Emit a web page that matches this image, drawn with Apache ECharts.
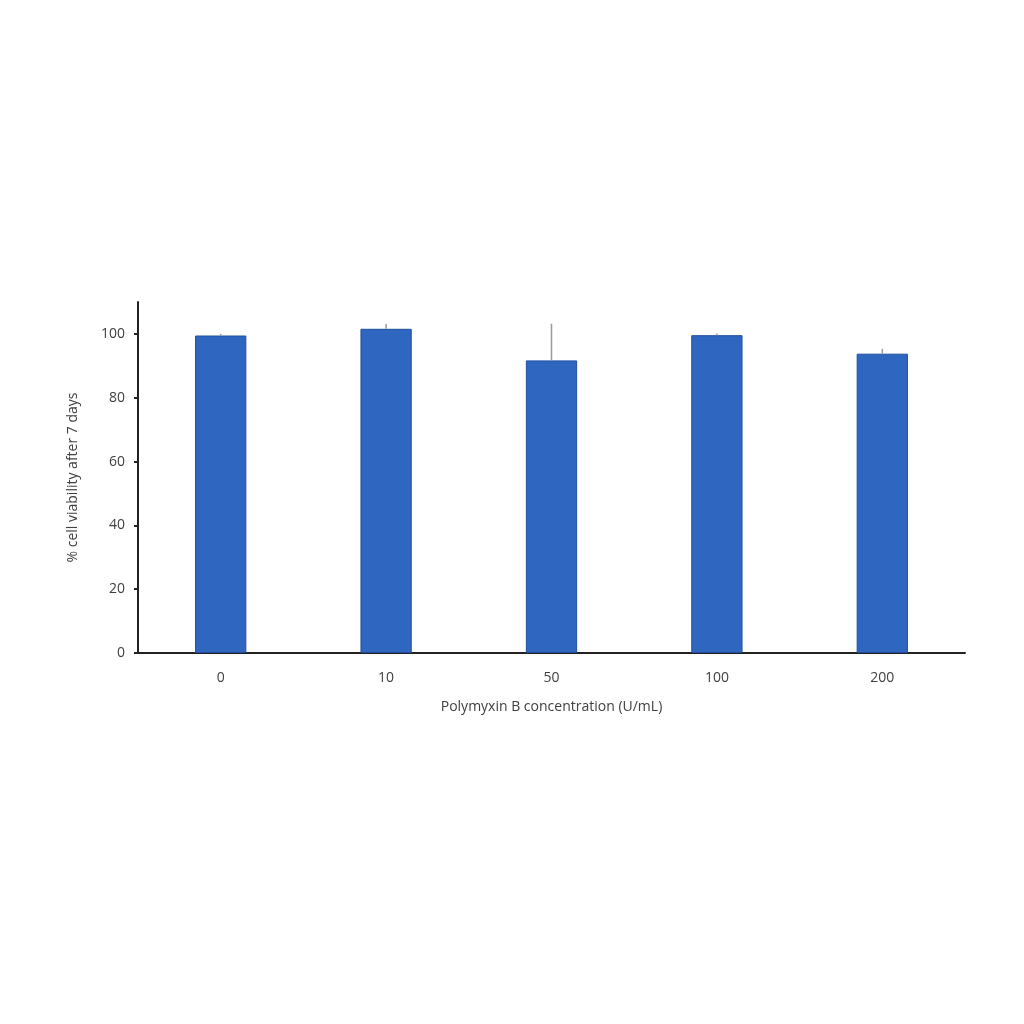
<!DOCTYPE html>
<html>
<head>
<meta charset="utf-8">
<script src="https://cdn.jsdelivr.net/npm/echarts@6/dist/echarts.min.js"></script>
<style>html,body{margin:0;padding:0;background:#fff}#c{width:1024px;height:1024px}</style>
</head>
<body>
<div id="c"></div>
<script>
var categories = ['0', '10', '50', '100', '200'];
var viability = [99.5, 101.6, 91.7, 99.6, 93.8];
var errorUp = [0.5, 1.5, 11.5, 0.5, 1.5];
var yTicks = [0, 20, 40, 60, 80, 100];

var chart = echarts.init(document.getElementById('c'));
var font = 'Open Sans';
chart.setOption({
  animation: false,
  grid: { left: 138, right: 59, top: 302, bottom: 371 },
  xAxis: {
    type: 'category',
    data: categories,
    name: 'Polymyxin B concentration (U/mL)',
    nameLocation: 'middle',
    nameGap: 47,
    nameTextStyle: { color: '#404040', fontSize: 14, fontFamily: font },
    axisLine: { lineStyle: { color: '#222', width: 2 } },
    axisTick: { show: false },
    axisLabel: { color: '#404040', fontSize: 14, fontFamily: font, margin: 18 }
  },
  yAxis: {
    type: 'value',
    min: 0, max: 110, interval: 10,
    name: '% cell viability after 7 days',
    nameLocation: 'middle',
    nameGap: 58,
    nameTextStyle: { color: '#404040', fontSize: 14, fontFamily: font },
    axisLine: { show: true, lineStyle: { color: '#222', width: 2 } },
    axisTick: { show: true, length: 4, customValues: yTicks, lineStyle: { color: '#222', width: 2 } },
    axisLabel: { color: '#404040', fontSize: 14, fontFamily: font, margin: 13, customValues: yTicks },
    splitLine: { show: false }
  },
  series: [
    {
      type: 'bar',
      data: viability,
      barWidth: '31%',
      itemStyle: { color: '#2F66BF', borderColor: '#1F4F9E', borderWidth: 1 }
    },
    {
      type: 'custom',
      data: viability.map(function (v, i) { return [i, v, v + errorUp[i]]; }),
      renderItem: function (params, api) {
        var p0 = api.coord([api.value(0), api.value(1)]);
        var p1 = api.coord([api.value(0), api.value(2)]);
        return {
          type: 'line',
          shape: { x1: p0[0], y1: p0[1], x2: p1[0], y2: p1[1] },
          style: { stroke: '#9a9a9a', lineWidth: 1.5 }
        };
      },
      z: 10
    }
  ]
});
</script>
</body>
</html>
